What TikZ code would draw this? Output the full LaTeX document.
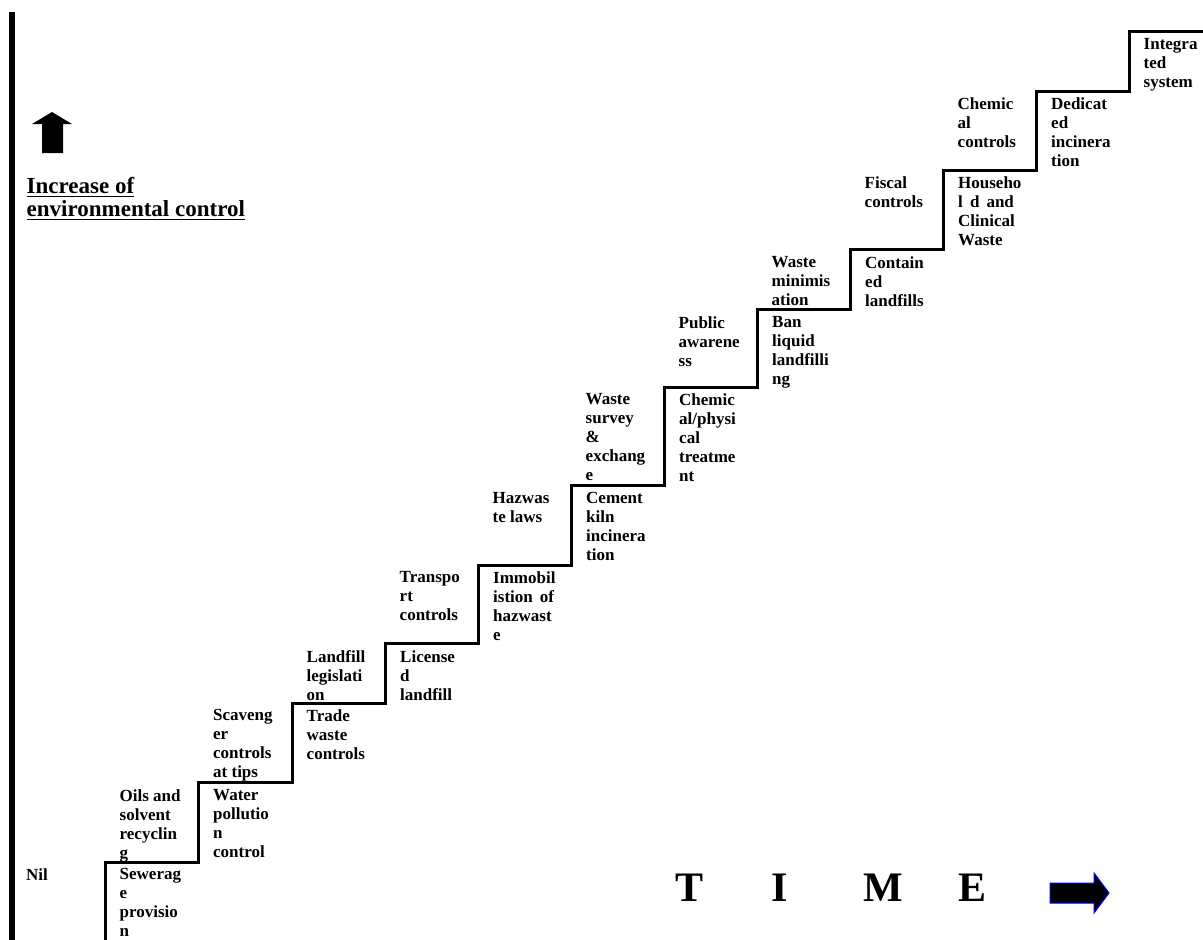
\documentclass[tikz,border=0pt]{standalone}
\usepackage{fontspec}
\setmainfont{Liberation Serif}
\usepackage{tikz}

\begin{document}
\begin{tikzpicture}[x=1pt, y=-1pt,
    stair/.style={line width=3pt, line join=miter},
    lbl/.style={anchor=north west, inner sep=0pt, align=left,
        font=\bfseries\fontsize{17}{19}\selectfont},
    heading/.style={anchor=base west, inner sep=0pt,
        font=\bfseries\fontsize{23}{23}\selectfont},
    timeltr/.style={anchor=base, inner sep=0pt,
        font=\bfseries\fontsize{42}{42}\selectfont}]
    \useasboundingbox (0,0) rectangle (1203,940);

    % vertical axis bar
    \draw[line width=6pt] (12,12) -- (12,940);

    % corners of the steps
    \foreach \x/\y [count=\i] in {105/862, 198.5/782.5, 292/703, 385.5/643.5,
        478.5/565, 571.5/485.5, 664.5/387, 757.5/309.5, 850.5/249.5,
        943.5/170, 1036.5/91, 1129/31.5}
        \coordinate (s\i) at (\x,\y);
    \coordinate (stairfoot) at (105,940);
    \coordinate (stairtop) at (1203,31.5);

    \draw[stair] (stairfoot) -- (s1) -| (s2) -| (s3) -| (s4) -| (s5) -| (s6)
        -| (s7) -| (s8) -| (s9) -| (s10) -| (s11) -| (s12) -- (stairtop);

    % labels left and right of each riser
    \node[lbl] (nil)       at ([shift={(-79,6.5)}]s1)  {Nil};
    \node[lbl] (sewerage)  at ([shift={(14.5,6.5)}]s1) {Sewerag\\e\\provisio\\n};
    \node[lbl] (oils)      at ([shift={(-79,6.5)}]s2)  {Oils and\\solvent\\recyclin\\g};
    \node[lbl] (water)     at ([shift={(14.5,6.5)}]s2) {Water\\pollutio\\n\\control};
    \node[lbl] (scavenger) at ([shift={(-79,6.5)}]s3)  {Scaveng\\er\\controls\\at tips};
    \node[lbl] (trade)     at ([shift={(14.5,6.5)}]s3) {Trade\\waste\\controls};
    \node[lbl] (landfill)  at ([shift={(-79,6.5)}]s4)  {Landfill\\legislati\\on};
    \node[lbl] (licensed)  at ([shift={(14.5,6.5)}]s4) {License\\d\\landfill};
    \node[lbl] (transport) at ([shift={(-79,6.5)}]s5)  {Transpo\\rt\\controls};
    \node[lbl] (immobil)   at ([shift={(14.5,6.5)}]s5) {Immobil\\istion\, of\\hazwast\\e};
    \node[lbl] (hazlaws)   at ([shift={(-79,6.5)}]s6)  {Hazwas\\te laws};
    \node[lbl] (cement)    at ([shift={(14.5,6.5)}]s6) {Cement\\kiln\\incinera\\tion};
    \node[lbl] (survey)    at ([shift={(-79,6.5)}]s7)  {Waste\\survey\\\&\\exchang\\e};
    \node[lbl] (chemphys)  at ([shift={(14.5,6.5)}]s7) {Chemic\\al/physi\\cal\\treatme\\nt};
    \node[lbl] (public)    at ([shift={(-79,6.5)}]s8)  {Public\\awarene\\ss};
    \node[lbl] (banliquid) at ([shift={(14.5,6.5)}]s8) {Ban\\liquid\\landfilli\\ng};
    \node[lbl] (minimis)   at ([shift={(-79,6.5)}]s9)  {Waste\\minimis\\ation};
    \node[lbl] (contained) at ([shift={(14.5,6.5)}]s9) {Contain\\ed\\landfills};
    \node[lbl] (fiscal)    at ([shift={(-79,6.5)}]s10) {Fiscal\\controls};
    \node[lbl] (household) at ([shift={(14.5,6.5)}]s10) {Househo\\l\, d\, and\\Clinical\\Waste};
    \node[lbl] (chemctl)   at ([shift={(-79,6.5)}]s11) {Chemic\\al\\controls};
    \node[lbl] (dedicated) at ([shift={(14.5,6.5)}]s11) {Dedicat\\ed\\incinera\\tion};
    \node[lbl] (integrated) at ([shift={(14.5,6.5)}]s12) {Integra\\ted\\system};

    % axis caption with arrow
    \fill (42,153) -- (42,124) -- (32,124) -- (52,112) -- (72,124) -- (63,124)
        -- (63,153) -- cycle;
    \node[heading] (incr) at (26.5,193) {Increase of};
    \node[heading] (envctl) at (26.5,216) {environmental control};
    \draw[line width=1.5pt] ([yshift=-3.5pt]incr.base west) -- ([yshift=-3.5pt]incr.base east);
    \draw[line width=1.5pt] ([yshift=-3.5pt]envctl.base west) -- ([yshift=-3.5pt]envctl.base east);

    % time axis
    \foreach \ch/\x in {T/690, I/780, M/883, E/972}
        \node[timeltr] (time\ch) at (\x,901) {\ch};
    \filldraw[fill=black, draw=blue, line width=1pt] (1050,883) -- (1094,883)
        -- (1094,873) -- (1109,893) -- (1094,913) -- (1094,903) -- (1050,903) -- cycle;
\end{tikzpicture}
\end{document}
